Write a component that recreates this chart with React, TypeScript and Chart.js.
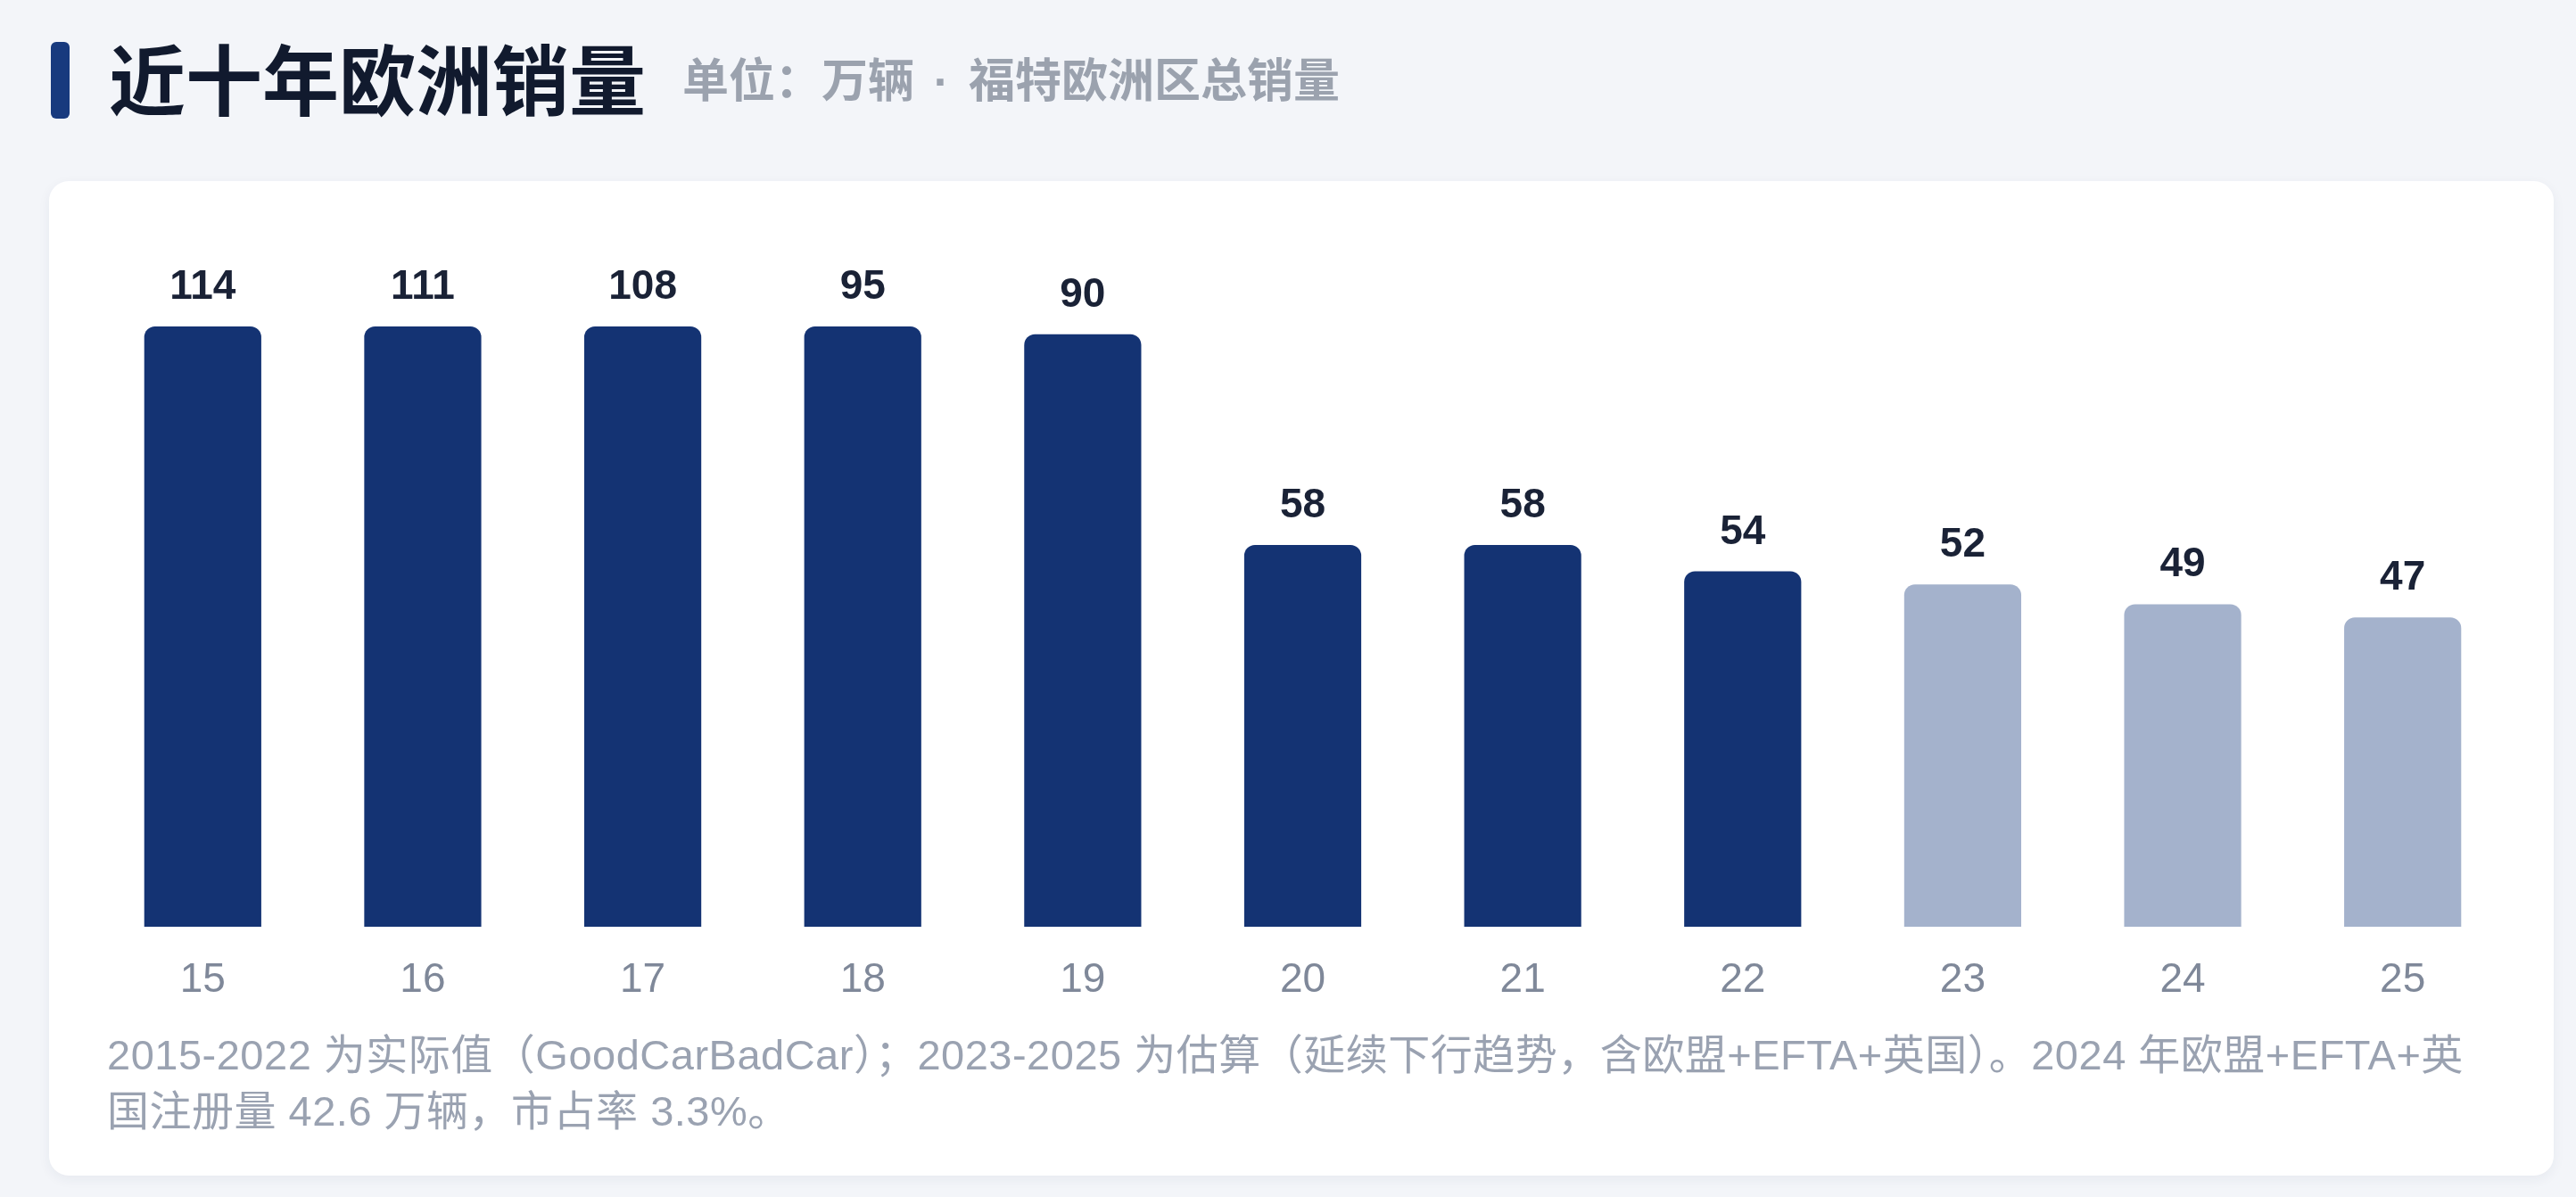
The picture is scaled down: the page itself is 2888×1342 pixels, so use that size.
import React, { useEffect, useRef } from "react";
import { Chart, registerables } from "chart.js";

Chart.register(...registerables);

// ---- data ----
const CATEGORIES = ["15", "16", "17", "18", "19", "20", "21", "22", "23", "24", "25"];
const VALUES = [114, 111, 108, 95, 90, 58, 58, 54, 52, 49, 47];
const ESTIMATED = [false, false, false, false, false, false, false, false, true, true, true];
const Y_MAX = 91.2;

const TITLE = "近十年欧洲销量";
const SUBTITLE_UNIT = "单位：万辆";
const SUBTITLE_SCOPE = "福特欧洲区总销量";
const NOTE_LINES = [
  "2015-2022 为实际值（GoodCarBadCar）；2023-2025 为估算（延续下行趋势，含欧盟+EFTA+英国）。2024 年欧盟+EFTA+英",
  "国注册量 42.6 万辆，市占率 3.3%。",
];

// ---- styles ----
const FONT = '"Liberation Sans", "Noto Sans CJK SC", sans-serif';
const CJK_FONT = '"Noto Sans CJK SC", "Liberation Sans", sans-serif';
const DARK = "#143373";
const LIGHT = "#a4b2cc";

const valueLabels = {
  id: "valueLabels",
  afterDatasetsDraw(chart: any) {
    const ctx = chart.ctx;
    const meta = chart.getDatasetMeta(0);
    ctx.save();
    ctx.font = `bold 46px ${FONT}`;
    ctx.fillStyle = "#1a2236";
    ctx.textAlign = "center";
    ctx.textBaseline = "alphabetic";
    meta.data.forEach((bar: any, i: number) => {
      ctx.fillText(String(VALUES[i]), bar.x, bar.y - 31);
    });
    ctx.restore();
  },
};

function BarChart() {
  const ref = useRef<HTMLCanvasElement | null>(null);
  useEffect(() => {
    if (!ref.current) return;
    const chart = new Chart(ref.current, {
      type: "bar",
      data: {
        labels: CATEGORIES,
        datasets: [
          {
            data: VALUES.map((v) => Math.min(v, Y_MAX)),
            backgroundColor: ESTIMATED.map((e) => (e ? LIGHT : DARK)),
            borderRadius: 12,
            borderSkipped: "start",
            barPercentage: 0.532,
            categoryPercentage: 1,
          },
        ],
      },
      options: {
        animation: false,
        responsive: false,
        events: [],
        layout: { padding: { left: 49, right: 46, top: 163, bottom: 20.8 } },
        plugins: { legend: { display: false }, tooltip: { enabled: false } },
        scales: {
          x: {
            type: "category",
            offset: true,
            grid: { display: false, drawTicks: false },
            border: { display: false },
            ticks: {
              color: "#7f8899",
              padding: 33,
              font: { family: FONT, size: 46, weight: "normal" },
            },
          },
          y: { display: false, min: 0, max: Y_MAX },
        },
      },
      plugins: [valueLabels],
    } as any);
    return () => chart.destroy();
  }, []);
  return (
    <canvas
      ref={ref}
      width={2808}
      height={978}
      style={{ position: "absolute", left: 0, top: 0, width: 2808, height: 978 }}
    />
  );
}

export default function App() {
  return (
    <div
      style={{
        position: "fixed",
        left: 0,
        top: 0,
        width: 2888,
        height: 1342,
        background: "#f3f5f9",
        overflow: "hidden",
      }}
    >
      <div
        style={{
          position: "absolute",
          left: 57,
          top: 47,
          width: 21,
          height: 86,
          borderRadius: 6,
          background: "#183a7e",
        }}
      />
      <div
        style={{
          position: "absolute",
          left: 122,
          top: 43,
          fontFamily: CJK_FONT,
          fontSize: 86,
          lineHeight: "86px",
          fontWeight: 700,
          color: "#111a2e",
          whiteSpace: "nowrap",
        }}
      >
        {TITLE}
      </div>
      <div
        style={{
          position: "absolute",
          left: 765,
          top: 61,
          fontFamily: CJK_FONT,
          fontSize: 52,
          lineHeight: "52px",
          fontWeight: 600,
          color: "#9ba2ae",
          whiteSpace: "nowrap",
        }}
      >
        <span>{SUBTITLE_UNIT}</span>
        <span
          style={{
            display: "inline-block",
            width: 61,
            textAlign: "center",
            fontFamily: '"Liberation Sans", sans-serif',
            fontWeight: 700,
          }}
        >
          ·
        </span>
        <span>{SUBTITLE_SCOPE}</span>
      </div>
      <div
        style={{
          position: "absolute",
          left: 55,
          top: 203,
          width: 2808,
          height: 1115,
          background: "#ffffff",
          borderRadius: 22,
          boxShadow: "0 4px 14px rgba(30,45,80,0.06)",
        }}
      >
        <BarChart />
        <div
          style={{
            position: "absolute",
            left: 65,
            top: 1151 - 203,
            fontFamily: FONT,
            fontSize: 47,
            letterSpacing: 0.5,
            lineHeight: "63px",
            color: "#9aa2b1",
            whiteSpace: "nowrap",
          }}
        >
          {NOTE_LINES.map((l, i) => (
            <div key={i}>{l}</div>
          ))}
        </div>
      </div>
    </div>
  );
}
